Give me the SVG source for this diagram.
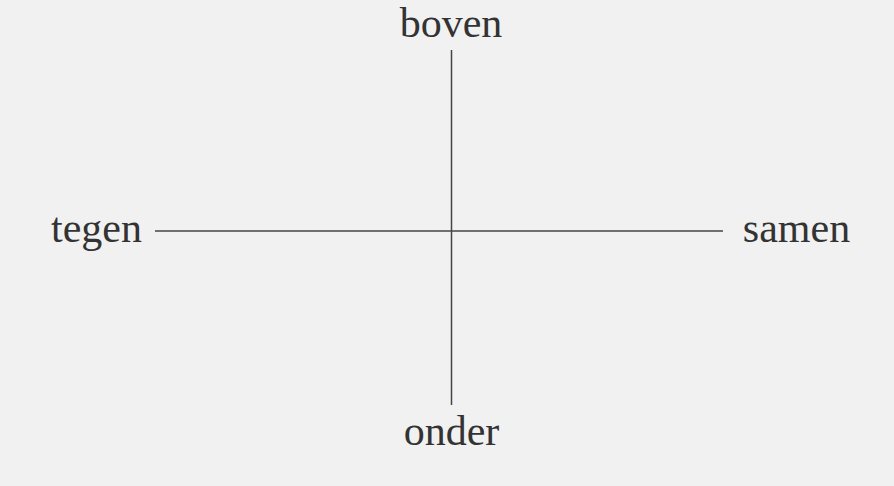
<svg xmlns="http://www.w3.org/2000/svg" width="894" height="486" viewBox="0 0 894 486">
<style>
.lbl{font-family:"Liberation Serif","DejaVu Serif",serif;font-size:42px;fill:#333;text-anchor:middle}
.ax{stroke:#444;stroke-width:1.5;fill:none}
</style>
<rect width="894" height="486" fill="#f1f1f1"/>
<g id="connectors">
<line class="ax" x1="451.5" y1="50" x2="451.5" y2="405"/>
<line class="ax" x1="155" y1="231" x2="723" y2="231"/>
</g>
<g id="boven"><text class="lbl" x="451" y="37">boven</text></g>
<g id="tegen"><text class="lbl" x="96.5" y="242">tegen</text></g>
<g id="samen"><text class="lbl" x="796.5" y="242">samen</text></g>
<g id="onder"><text class="lbl" x="451.5" y="445">onder</text></g>
</svg>
